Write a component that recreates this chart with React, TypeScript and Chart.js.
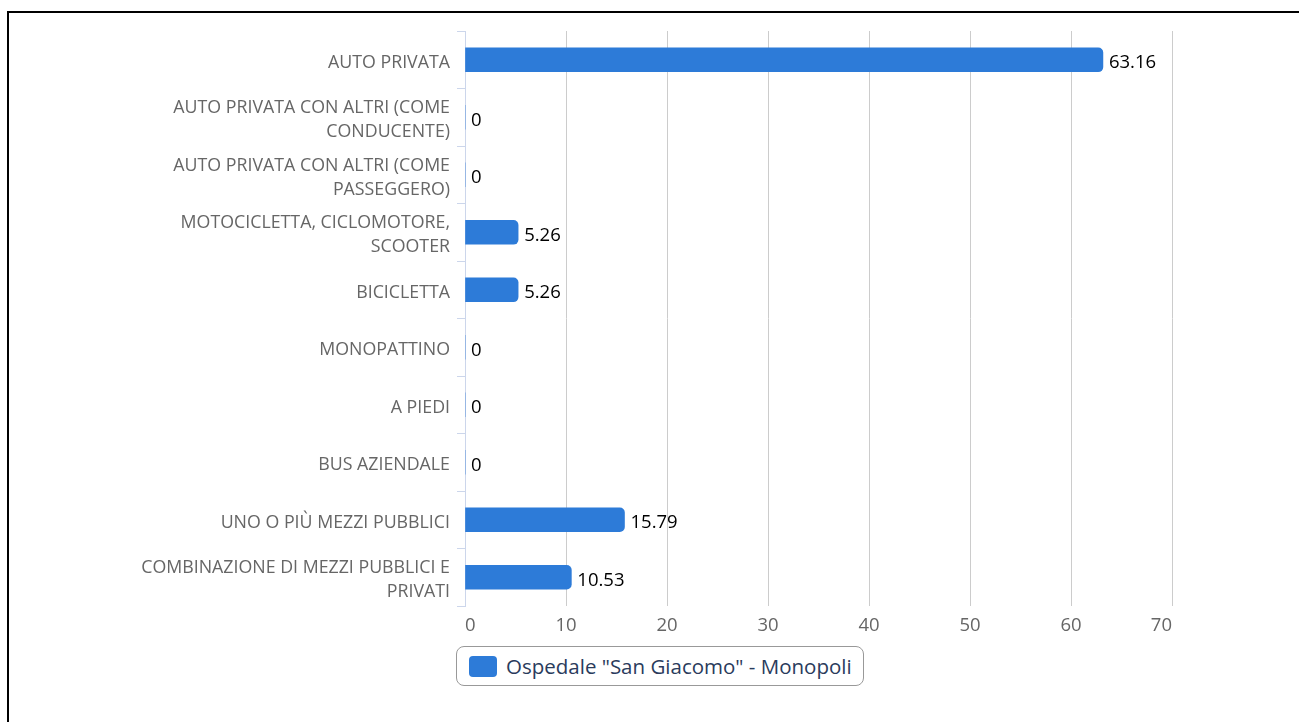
import React, { useEffect, useRef } from "react";
import { Chart, registerables } from "chart.js";

Chart.register(...registerables);

const categories: (string | string[])[] = [
  "AUTO PRIVATA",
  ["AUTO PRIVATA CON ALTRI (COME", "CONDUCENTE)"],
  ["AUTO PRIVATA CON ALTRI (COME", "PASSEGGERO)"],
  ["MOTOCICLETTA, CICLOMOTORE,", "SCOOTER"],
  "BICICLETTA",
  "MONOPATTINO",
  "A PIEDI",
  "BUS AZIENDALE",
  "UNO O PIÙ MEZZI PUBBLICI",
  ["COMBINAZIONE DI MEZZI PUBBLICI E", "PRIVATI"],
];

const seriesName = 'Ospedale "San Giacomo" - Monopoli';
const seriesValues: number[] = [63.16, 0, 0, 5.26, 5.26, 0, 0, 0, 15.79, 10.53];
const xTicks: number[] = [0, 10, 20, 30, 40, 50, 60, 70];

const BAR_COLOR = "#2d7bd8";
const FONT = "'Open Sans', 'Noto Sans', sans-serif";

const dataLabelPlugin = {
  id: "dataLabels",
  afterDatasetsDraw(chart: any) {
    const ctx = chart.ctx;
    const meta = chart.getDatasetMeta(0);
    const ds = chart.data.datasets[0];
    ctx.save();
    ctx.font = `18.5px ${FONT}`;
    ctx.fillStyle = "#000";
    ctx.textAlign = "left";
    ctx.textBaseline = "middle";
    meta.data.forEach((bar: any, i: number) => {
      const v = ds.data[i];
      ctx.fillText(String(v), bar.x + 6, bar.y + 3);
    });
    ctx.restore();
  },
};

export default function App() {
  const canvasRef = useRef<HTMLCanvasElement | null>(null);

  useEffect(() => {
    if (!canvasRef.current) return;
    const chart = new Chart(canvasRef.current, {
      type: "bar",
      data: {
        labels: categories,
        datasets: [
          {
            label: seriesName,
            data: seriesValues,
            backgroundColor: BAR_COLOR,
            borderRadius: 5,
            borderSkipped: "start",
            barThickness: 24,
          },
        ],
      },
      plugins: [dataLabelPlugin],
      options: {
        indexAxis: "y",
        animation: false,
        responsive: false,
        devicePixelRatio: 1,
        layout: { padding: { top: 30, right: 127, left: 0, bottom: 0 } },
        plugins: {
          legend: { display: false },
          tooltip: { enabled: false },
        },
        scales: {
          x: {
            min: 0,
            max: 70,
            afterBuildTicks: (scale: any) => {
              scale.ticks = xTicks.map((v) => ({ value: v }));
            },
            afterFit: (scale: any) => {
              scale.height = 34;
            },
            grid: { color: "#cccccc", lineWidth: 1, drawTicks: false },
            border: { display: false },
            ticks: {
              color: "#666666",
              font: { family: FONT, size: 18.5 },
              padding: 9,
              align: "inner",
            },
          },
          y: {
            afterFit: (scale: any) => {
              scale.width = 465;
            },
            grid: {
              offset: true,
              drawOnChartArea: false,
              drawTicks: true,
              tickLength: 8,
              color: "#ccd6eb",
            },
            border: { display: true, color: "#ccd6eb", width: 1 },
            ticks: {
              color: "#666666",
              font: { family: FONT, size: 17.8, lineHeight: 1.35 },
              padding: 7,
              labelOffset: 3,
              autoSkip: false,
            },
          },
        },
      },
    } as any);
    return () => chart.destroy();
  }, []);

  return (
    <div>
      <div
        style={{
          position: "fixed",
          left: 7,
          top: 11,
          right: -20,
          bottom: -20,
          border: "2px solid #000",
          boxSizing: "border-box",
        }}
      />
      <canvas
        ref={canvasRef}
        width={1299}
        height={640}
        style={{ position: "fixed", left: 0, top: 0, width: 1299, height: 640 }}
      />
      <div
        style={{
          position: "fixed",
          left: 456,
          top: 646,
          width: 408,
          height: 40,
          boxSizing: "border-box",
          border: "1px solid #999",
          borderRadius: 8,
          display: "flex",
          alignItems: "center",
          fontFamily: FONT,
          fontSize: 20.5,
          color: "#2a3b5c",
          background: "#fff",
        }}
      >
        <span
          style={{
            display: "inline-block",
            width: 28,
            height: 21,
            borderRadius: 4,
            background: BAR_COLOR,
            marginLeft: 12,
            marginRight: 9,
            flexShrink: 0,
          }}
        />
        <span style={{ whiteSpace: "nowrap" }}>{seriesName}</span>
      </div>
    </div>
  );
}
